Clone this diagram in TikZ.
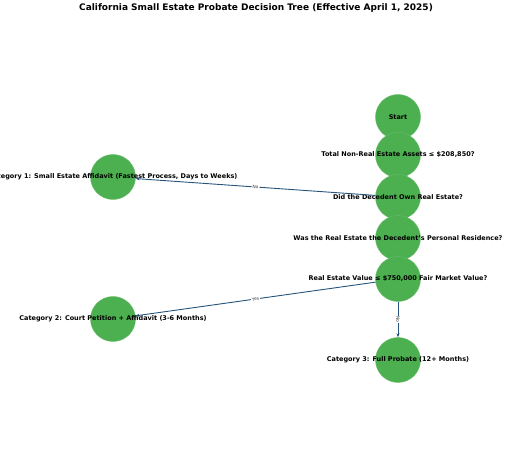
\documentclass[tikz,border=0pt]{standalone}
\usepackage{fontspec}
\setmainfont{DejaVu Sans}
\usetikzlibrary{arrows.meta}
\definecolor{nodegreen}{RGB}{76,175,80}
\definecolor{edgeblue}{RGB}{38,84,124}
\tikzset{
    treenode/.style={circle, fill=nodegreen, draw=nodegreen!85!white, minimum size=45pt, inner sep=0pt},
    nodetext/.style={font=\bfseries\fontsize{6.5}{7}\selectfont, text=black, inner sep=0pt},
    edge/.style={draw=edgeblue, line width=0.9pt, -{Stealth[length=4pt, width=3pt]}},
    edgelabel/.style={font=\fontsize{4.5}{5}\selectfont, text=black!75, fill=white, inner sep=0.8pt, sloped, midway}
}
\begin{document}
\begin{tikzpicture}[x=1pt, y=-1pt]
    \useasboundingbox (0, 0) rectangle (512, 457);
    \node[font=\bfseries\fontsize{9}{10}\selectfont] (title) at (256, 8) {California Small Estate Probate Decision Tree (Effective April 1, 2025)};

    % main column
    \node[treenode, label={[nodetext]center:Start}] (start) at (398, 117) {};
    \node[treenode, label={[nodetext]center:Total Non-Real Estate Assets ≤ \$208,850?}] (assets) at (398, 155) {};
    \node[treenode, label={[nodetext]center:Did the Decedent Own Real Estate?}] (ownre) at (398, 197) {};
    \node[treenode, label={[nodetext]center:Was the Real Estate the Decedent's Personal Residence?}] (residence) at (398, 238) {};
    \node[treenode, label={[nodetext]center:Real Estate Value ≤ \$750,000 Fair Market Value?}] (value) at (398, 279) {};
    \node[treenode, label={[nodetext]center:Category 3: Full Probate (12+ Months)}] (cat3) at (398, 360) {};

    % outcomes on the left
    \node[treenode, label={[nodetext]center:Category 1: Small Estate Affidavit (Fastest Process, Days to Weeks)}] (cat1) at (113, 177) {};
    \node[treenode, label={[nodetext]center:Category 2: Court Petition + Affidavit (3-6 Months)}] (cat2) at (113, 319) {};

    \draw[edge] (ownre) -- node[edgelabel] {No} (cat1);
    \draw[edge] (value) -- node[edgelabel] {Yes} (cat2);
    \draw[edge] (value) -- node[edgelabel, sloped=false, rotate=-90] {No} (cat3);
\end{tikzpicture}
\end{document}
